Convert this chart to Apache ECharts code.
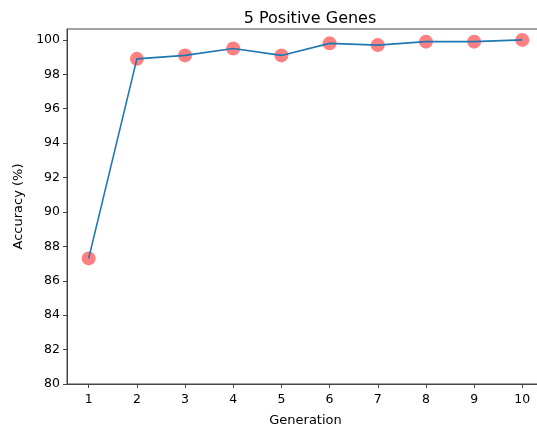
<!DOCTYPE html>
<html>
<head>
<meta charset="utf-8">
<script src="https://cdn.jsdelivr.net/npm/echarts@6/dist/echarts.min.js"></script>
<style>
    html, body { margin: 0; padding: 0; background: #fff; }
    #chart { width: 537px; height: 428px; }
</style>
</head>
<body>
<div id="chart"></div>
<script>
    // generations on x, accuracy (%) on y
    var generations = [1, 2, 3, 4, 5, 6, 7, 8, 9, 10];
    var accuracy = [87.3, 98.9, 99.1, 99.5, 99.1, 99.8, 99.7, 99.9, 99.9, 100.0];
    var yTicks = [80, 82, 84, 86, 88, 90, 92, 94, 96, 98, 100];

    var points = [];
    for (var i = 0; i < generations.length; i++) {
        points.push([generations[i], accuracy[i]]);
    }

    var font = 'DejaVu Sans';
    var axisColor = '#444';

    var chart = echarts.init(document.getElementById('chart'));
    chart.setOption({
        animation: false,
        backgroundColor: '#fff',
        title: {
            text: '5 Positive Genes',
            left: 305,
            top: 6,
            textAlign: 'center',
            textStyle: {fontFamily: font, fontSize: 16, fontWeight: 'normal', color: '#000'}
        },
        grid: {
            left: 67, top: 29, width: 477, height: 355,
            outerBoundsMode: 'none',
            containLabel: false,
            show: true, borderColor: axisColor, borderWidth: 1
        },
        xAxis: {
            type: 'value',
            min: 0.55,
            max: 10.45,
            interval: 1,
            name: 'Generation',
            nameLocation: 'middle',
            nameGap: 30,
            nameTextStyle: {fontFamily: font, fontSize: 13, color: '#000'},
            splitLine: {show: false},
            axisLine: {lineStyle: {color: axisColor, width: 1}},
            axisTick: {length: 4, lineStyle: {color: axisColor}, customValues: generations},
            axisLabel: {
                fontFamily: font, fontSize: 12.5, color: '#000', margin: 9,
                customValues: generations
            }
        },
        yAxis: {
            type: 'value',
            min: 80,
            max: 100.635,
            name: 'Accuracy (%)',
            nameLocation: 'middle',
            nameGap: 42,
            nameRotate: 90,
            nameTextStyle: {fontFamily: font, fontSize: 13, color: '#000'},
            splitLine: {show: false},
            axisLine: {show: true, lineStyle: {color: axisColor, width: 1}},
            axisTick: {show: true, length: 4, lineStyle: {color: axisColor}, customValues: yTicks},
            axisLabel: {
                fontFamily: font, fontSize: 12.5, color: '#000', margin: 7,
                customValues: yTicks
            }
        },
        series: [
            {
                type: 'scatter',
                data: points,
                symbolSize: 14,
                itemStyle: {color: '#ff8080', opacity: 1},
                z: 2
            },
            {
                type: 'line',
                data: points,
                showSymbol: false,
                lineStyle: {color: '#1f77b4', width: 1.6},
                z: 3
            }
        ]
    });
</script>
</body>
</html>
